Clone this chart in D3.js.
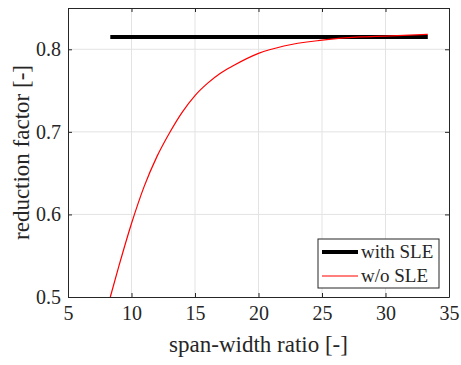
<!DOCTYPE html>
<html>
<head>
<meta charset="utf-8">
<style>
  body { margin: 0; background: #fff; }
</style>
</head>
<body>
<svg id="chart" width="461" height="365"></svg>

<script src="https://d3js.org/d3.v7.min.js"></script>
<script>
  // data
  var xTicks = [5, 10, 15, 20, 25, 30, 35];
  var yTicks = [0.5, 0.6, 0.7, 0.8];

  var withSLE_x = [8.33, 33.33];
  var withSLE_y = [0.815, 0.815];

  var woSLE_x = [8.33, 9, 10, 11, 12, 13, 14, 15, 16, 17, 18, 20, 22, 25, 28, 30, 33.33];
  var woSLE_y = [0.500, 0.537, 0.589, 0.634, 0.670, 0.699, 0.724, 0.744, 0.759, 0.771, 0.780, 0.795, 0.804, 0.811, 0.815, 0.816, 0.818];

  var seriesNames = ["with SLE", "w/o SLE"];

  var serif = "'Liberation Serif', 'Times New Roman', serif";

  var margin = { top: 8, right: 12, bottom: 68, left: 68 },
    width = 449 - margin.left,
    height = 297 - margin.top;

  var svg = d3.select("#chart");
  var g = svg.append("g")
    .attr("transform", "translate(" + margin.left + "," + margin.top + ")");

  var x = d3.scaleLinear().domain([5, 35]).range([0, width]);
  var y = d3.scaleLinear().domain([0.5, 0.85]).range([height, 0]);

  // grid
  g.append("g").selectAll("line").data(xTicks.slice(1, -1)).enter().append("line")
    .attr("x1", d => x(d)).attr("x2", d => x(d))
    .attr("y1", 0).attr("y2", height)
    .attr("stroke", "#e3e3e3").attr("stroke-width", 1);
  g.append("g").selectAll("line").data(yTicks.slice(1)).enter().append("line")
    .attr("x1", 0).attr("x2", width)
    .attr("y1", d => y(d)).attr("y2", d => y(d))
    .attr("stroke", "#e3e3e3").attr("stroke-width", 1);

  // axes (ticks inside, box all round)
  function styleAxis(sel) {
    sel.attr("font-family", serif);
    sel.select(".domain").attr("stroke", "#262626");
    sel.selectAll(".tick line").attr("stroke", "#262626");
    sel.selectAll("text").style("font-size", "20px").attr("fill", "#262626");
  }
  g.append("g").attr("transform", "translate(0," + height + ")")
    .call(d3.axisBottom(x).tickValues(xTicks).tickSizeInner(-4).tickSizeOuter(0).tickPadding(9))
    .call(styleAxis);
  g.append("g")
    .call(d3.axisTop(x).tickValues(xTicks).tickSizeInner(-4).tickSizeOuter(0).tickFormat(""))
    .call(styleAxis);
  g.append("g")
    .call(d3.axisLeft(y).tickValues(yTicks).tickSizeInner(-4).tickSizeOuter(0).tickPadding(7).tickFormat(d3.format(".1f")))
    .call(styleAxis);
  g.append("g").attr("transform", "translate(" + width + ",0)")
    .call(d3.axisRight(y).tickValues(yTicks).tickSizeInner(-4).tickSizeOuter(0).tickFormat(""))
    .call(styleAxis);

  // lines
  var line = d3.line().x(d => x(d[0])).y(d => y(d[1]));
  g.append("path")
    .datum(d3.zip(withSLE_x, withSLE_y))
    .attr("d", line)
    .attr("fill", "none").attr("stroke", "#000").attr("stroke-width", 4);
  g.append("path")
    .datum(d3.zip(woSLE_x, woSLE_y))
    .attr("d", line.curve(d3.curveMonotoneX))
    .attr("fill", "none").attr("stroke", "#ff0000").attr("stroke-width", 1.2);

  // axis labels
  svg.append("text")
    .attr("x", margin.left + width / 2).attr("y", 352)
    .attr("text-anchor", "middle")
    .attr("font-family", serif).attr("fill", "#262626").style("font-size", "23px")
    .text("span-width ratio [-]");
  svg.append("text")
    .attr("transform", "translate(29," + (margin.top + height / 2) + ") rotate(-90)")
    .attr("text-anchor", "middle")
    .attr("font-family", serif).attr("fill", "#262626").style("font-size", "23px")
    .text("reduction factor [-]");

  // legend
  var leg = svg.append("g").attr("transform", "translate(318,239)");
  leg.append("rect").attr("width", 121).attr("height", 49)
    .attr("fill", "#fff").attr("stroke", "#262626").attr("stroke-width", 1);
  var legStyle = [{ c: "#000", w: 4 }, { c: "#ff0000", w: 1.2 }];
  seriesNames.forEach(function (name, i) {
    var yy = 13 + i * 24;
    leg.append("line").attr("x1", 4).attr("x2", 40).attr("y1", yy).attr("y2", yy)
      .attr("stroke", legStyle[i].c).attr("stroke-width", legStyle[i].w);
    leg.append("text").attr("x", 43).attr("y", yy + 6)
      .attr("font-family", serif).attr("fill", "#262626").style("font-size", "19px")
      .text(name);
  });
</script>
</body>
</html>
